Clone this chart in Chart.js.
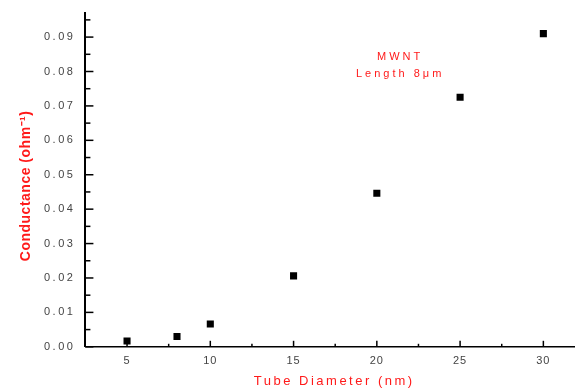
<!DOCTYPE html>
<html>
<head>
<meta charset="utf-8">
<script src="https://cdn.jsdelivr.net/npm/chart.js@4"></script>
<style>
  html, body { margin: 0; padding: 0; background: #fff; }
  #wrap { width: 575px; height: 390px; }
</style>
</head>
<body>
<div id="wrap"><canvas id="chart"></canvas></div>
<script>
// data
const diameters = [5, 8, 10, 15, 20, 25, 30];
const conductance = [0.0017, 0.0030, 0.0066, 0.0206, 0.0446, 0.0725, 0.0910];
const xTickValues = [5, 10, 15, 20, 25, 30];
const yTickValues = [0, 0.01, 0.02, 0.03, 0.04, 0.05, 0.06, 0.07, 0.08, 0.09];
const noteLines = ['MWNT', 'Length 8μm'];
const xTitle = 'Tube Diameter (nm)';
const yTitle = 'Conductance (ohm⁻¹)';

const FONT = '"Liberation Sans", Arial, sans-serif';
const RED = '#ff1a1a';

// wider letter spacing for tick labels, like the original bitmap font
const labelSpacing = { x: '1px', y: '2.5px' };

const oldStyle = {
    id: 'oldStyle',
    afterLayout(chart) {
        ['x', 'y'].forEach(id => {
            const s = chart.scales[id];
            if (s._spaced) return;
            const orig = s.drawLabels.bind(s);
            s.drawLabels = area => {
                s.ctx.save();
                s.ctx.letterSpacing = labelSpacing[id];
                orig(area);
                s.ctx.restore();
            };
            s._spaced = true;
        });
    },
    afterDraw(chart) {
        const { ctx, scales: { x, y } } = chart;
        ctx.save();
        ctx.strokeStyle = '#000';
        ctx.lineWidth = 1.5;
        // inward ticks, major and minor
        yTickValues.forEach(v => {
            const py = y.getPixelForValue(v);
            ctx.beginPath(); ctx.moveTo(x.left, py); ctx.lineTo(x.left + 8, py); ctx.stroke();
            const ph = y.getPixelForValue(v + 0.005);
            ctx.beginPath(); ctx.moveTo(x.left, ph); ctx.lineTo(x.left + 5, ph); ctx.stroke();
        });
        xTickValues.forEach(v => {
            const px = x.getPixelForValue(v);
            ctx.beginPath(); ctx.moveTo(px, y.bottom); ctx.lineTo(px, y.bottom - 6); ctx.stroke();
            const ph = x.getPixelForValue(v + 2.5);
            if (v + 2.5 <= x.max) {
                ctx.beginPath(); ctx.moveTo(ph, y.bottom); ctx.lineTo(ph, y.bottom - 3); ctx.stroke();
            }
        });

        ctx.fillStyle = RED;
        ctx.textAlign = 'center';
        ctx.textBaseline = 'middle';

        // note
        ctx.letterSpacing = '3px';
        ctx.font = '11px ' + FONT;
        ctx.fillText(noteLines[0], x.getPixelForValue(21.4), y.getPixelForValue(0.0841));
        ctx.fillText(noteLines[1], x.getPixelForValue(21.4), y.getPixelForValue(0.0794));

        // x title
        ctx.letterSpacing = '2.5px';
        ctx.font = '13px ' + FONT;
        ctx.fillText(xTitle, (x.left + x.right) / 2 + 4, chart.height - 9);

        // y title
        ctx.letterSpacing = '0.5px';
        ctx.font = 'bold 14px ' + FONT;
        ctx.translate(26, (y.top + y.bottom) / 2 + 6);
        ctx.rotate(-Math.PI / 2);
        ctx.fillText(yTitle, 0, 0);
        ctx.restore();
    }
};

new Chart(document.getElementById('chart'), {
    type: 'scatter',
    data: {
        datasets: [{
            data: diameters.map((d, i) => ({ x: d, y: conductance[i] })),
            pointStyle: 'rect',
            pointRadius: 5,
            pointBackgroundColor: '#000',
            pointBorderColor: '#000',
            pointBorderWidth: 0
        }]
    },
    options: {
        responsive: true,
        maintainAspectRatio: false,
        animation: false,
        layout: { autoPadding: false, padding: { top: 13, right: 0, left: 44, bottom: 14 } },
        plugins: { legend: { display: false }, tooltip: { enabled: false } },
        scales: {
            x: {
                type: 'linear',
                min: 2.5,
                max: 31.9,
                afterBuildTicks: s => { s.ticks = xTickValues.map(v => ({ value: v })); },
                grid: { drawOnChartArea: false, drawTicks: false },
                border: { color: '#000', width: 1.5 },
                ticks: {
                    color: '#444',
                    padding: 8,
                    font: { family: FONT, size: 11 }
                }
            },
            y: {
                min: 0,
                max: 0.097,
                afterBuildTicks: s => { s.ticks = yTickValues.map(v => ({ value: v })); },
                // top label sits well below the axis end, no extra room needed
                afterFit: s => { s.paddingTop = 0; },
                grid: { drawOnChartArea: false, drawTicks: false },
                border: { color: '#000', width: 2 },
                ticks: {
                    color: '#444',
                    padding: 10,
                    callback: v => v.toFixed(2),
                    font: { family: FONT, size: 11 }
                }
            }
        }
    },
    plugins: [oldStyle]
});
</script>
</body>
</html>
